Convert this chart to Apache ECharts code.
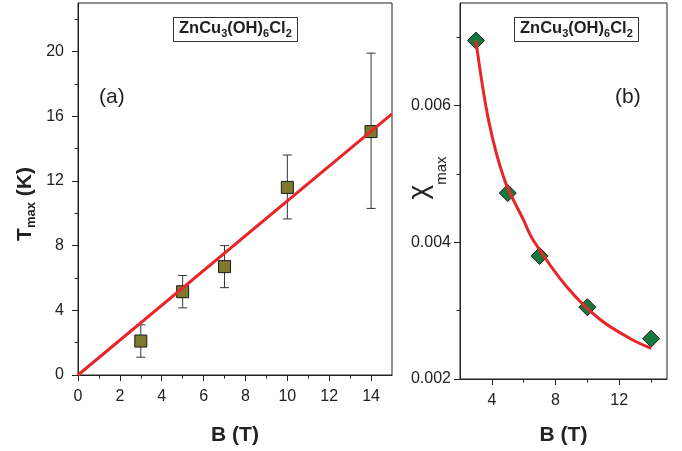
<!DOCTYPE html>
<html>
<head>
<meta charset="utf-8">
<script src="https://cdn.jsdelivr.net/npm/echarts@6/dist/echarts.min.js"></script>
<style>
  html, body { margin: 0; padding: 0; background: #fff; }
  #chart { width: 682px; height: 451px; }
</style>
</head>
<body>
<div id="chart"></div>
<script>
// panel (a): T_max vs B, with error bars and linear fit
const fieldA = [3, 5, 7, 10, 14];
const tMax = [2.1, 5.15, 6.7, 11.6, 15.05];
const tMaxLow = [1.1, 4.15, 5.4, 9.65, 10.3];
const tMaxHigh = [3.1, 6.15, 8.0, 13.6, 19.9];
const fitLineB = [0, 15];
const fitLineT = [0, 16.15];

// panel (b): chi_max vs B, with fitted curve
const fieldB = [3, 5, 7, 10, 14];
const chiMax = [0.00695, 0.00472, 0.0038, 0.00305, 0.00259];
const fitCurveB = [3.0, 3.8, 4.8, 6.0, 6.6, 8.7, 10.8, 12.85, 14.0];
const fitCurveChi = [0.00695, 0.00578, 0.00491, 0.00432, 0.00403, 0.00335, 0.00287, 0.00257, 0.00245];

// tick positions
const aXMajor = [0, 2, 4, 6, 8, 10, 12, 14];
const aXMinor = [1, 3, 5, 7, 9, 11, 13];
const aYMajor = [0, 4, 8, 12, 16, 20];
const aYMinor = [2, 6, 10, 14, 18, 22];
const bXMajor = [4, 8, 12];
const bXMinor = [6, 10, 14];
const bYMajor = [0.002, 0.004, 0.006];
const bYMinor = [0.003, 0.005, 0.007];

const FONT = 'Liberation Sans, Arial, sans-serif';
const INK = '#222';
const RED = '#e8262a';

const chartDom = document.getElementById('chart');
const myChart = echarts.init(chartDom);

function zip(xs, ys) {
    return xs.map((x, i) => [x, ys[i]]);
}

// main axis (line, labels, long ticks)
function mainAxis(grid, min, max, major, labelMargin, extra) {
    return Object.assign({
        type: 'value',
        gridIndex: grid,
        min: min,
        max: max,
        nameMoveOverlap: false,
        axisLine: { show: true, onZero: false, lineStyle: { color: INK, width: 1 } },
        axisTick: { show: true, length: 6, customValues: major, lineStyle: { color: INK } },
        axisLabel: { customValues: major, margin: labelMargin, color: INK, fontSize: 16, fontFamily: FONT },
        splitLine: { show: false }
    }, extra);
}

// overlay axis that only draws the short ticks
function minorAxis(grid, min, max, minor, position) {
    return {
        type: 'value',
        gridIndex: grid,
        position: position,
        min: min,
        max: max,
        axisLine: { show: false, onZero: false },
        axisTick: { show: true, length: 3.5, customValues: minor, lineStyle: { color: INK } },
        axisLabel: { show: false },
        splitLine: { show: false }
    };
}

const subText = {
    big: { fontSize: 21, fontWeight: 'bold', fontFamily: FONT, color: INK, lineHeight: 26, verticalAlign: 'middle' },
    sub: { fontSize: 13, fontWeight: 'bold', fontFamily: FONT, color: INK, lineHeight: 13, verticalAlign: 'bottom' }
};

const formulaRich = {
    m: { fontSize: 16.5, fontWeight: 'bold', fontFamily: FONT, color: INK, lineHeight: 21, verticalAlign: 'middle' },
    s: { fontSize: 11, fontWeight: 'bold', fontFamily: FONT, color: INK, lineHeight: 11, verticalAlign: 'bottom' }
};
const formula = '{m|ZnCu}{s|3}{m|(OH)}{s|6}{m|Cl}{s|2}';

var option = {
    animation: false,
    backgroundColor: '#fff',
    title: [
        {
            text: formula, left: 173, top: 15, padding: [3, 6, 3, 6],
            borderColor: '#333', borderWidth: 1,
            textStyle: { rich: formulaRich }
        },
        {
            text: formula, left: 514, top: 15, padding: [3, 6, 3, 6],
            borderColor: '#333', borderWidth: 1,
            textStyle: { rich: formulaRich }
        },
        { text: '(a)', left: 94, top: 82, textStyle: { fontSize: 21, fontWeight: 'normal', fontFamily: FONT, color: INK } },
        { text: '(b)', left: 610, top: 82, textStyle: { fontSize: 21, fontWeight: 'normal', fontFamily: FONT, color: INK } }
    ],
    grid: [
        { left: 78, right: 290, top: 3, bottom: 74, show: true, borderColor: INK, borderWidth: 1, backgroundColor: 'transparent' },
        { left: 460, right: 15, top: 3, bottom: 70, show: true, borderColor: INK, borderWidth: 1, backgroundColor: 'transparent' }
    ],
    xAxis: [
        mainAxis(0, 0, 15, aXMajor, 14, {
            position: 'bottom',
            name: 'B (T)', nameLocation: 'middle', nameGap: 50,
            nameTextStyle: { fontSize: 21, fontWeight: 'bold', fontFamily: FONT, color: INK }
        }),
        minorAxis(0, 0, 15, aXMinor, 'bottom'),
        mainAxis(1, 2, 15, bXMajor, 14, {
            position: 'bottom',
            name: 'B (T)', nameLocation: 'middle', nameGap: 46,
            nameTextStyle: { fontSize: 21, fontWeight: 'bold', fontFamily: FONT, color: INK }
        }),
        minorAxis(1, 2, 15, bXMinor, 'bottom')
    ],
    yAxis: [
        mainAxis(0, 0, 23, aYMajor, 14, {
            position: 'left',
            name: '{big|T}{sub|max}{big| (K)}', nameLocation: 'middle', nameGap: 40,
            nameTextStyle: { rich: subText, padding: [0, 30, 0, 0] }
        }),
        minorAxis(0, 0, 23, aYMinor, 'left'),
        mainAxis(1, 0.002, 0.0075, bYMajor, 9, {
            position: 'left',
            name: '{c|\u03c7}{s|max}', nameLocation: 'middle', nameGap: 11,
            nameTextStyle: {
                padding: [0, 0, 0, 26],
                rich: {
                    c: { fontSize: 28, fontFamily: FONT, color: INK, lineHeight: 28, verticalAlign: 'top' },
                    s: { fontSize: 15, fontFamily: FONT, color: INK, lineHeight: 44, verticalAlign: 'bottom' }
                }
            }
        }),
        minorAxis(1, 0.002, 0.0075, bYMinor, 'left')
    ],
    series: [
        {
            name: 'error bars',
            type: 'custom',
            xAxisIndex: 0,
            yAxisIndex: 0,
            data: fieldA.map((b, i) => [b, tMaxLow[i], tMaxHigh[i]]),
            renderItem: function (params, api) {
                const lo = api.coord([api.value(0), api.value(1)]);
                const hi = api.coord([api.value(0), api.value(2)]);
                const w = 4.5;
                const style = { stroke: '#333', lineWidth: 1 };
                return {
                    type: 'group',
                    children: [
                        { type: 'line', shape: { x1: lo[0], y1: lo[1], x2: hi[0], y2: hi[1] }, style: style },
                        { type: 'line', shape: { x1: lo[0] - w, y1: lo[1], x2: lo[0] + w, y2: lo[1] }, style: style },
                        { type: 'line', shape: { x1: hi[0] - w, y1: hi[1], x2: hi[0] + w, y2: hi[1] }, style: style }
                    ]
                };
            },
            z: 2
        },
        {
            name: 'T_max',
            type: 'scatter',
            xAxisIndex: 0,
            yAxisIndex: 0,
            data: zip(fieldA, tMax),
            symbol: 'rect',
            symbolSize: 12,
            itemStyle: { color: '#7c7a2c', borderColor: '#1a1a1a', borderWidth: 1, opacity: 1 },
            z: 3
        },
        {
            name: 'linear fit',
            type: 'line',
            xAxisIndex: 0,
            yAxisIndex: 0,
            data: zip(fitLineB, fitLineT),
            showSymbol: false,
            symbol: 'none',
            lineStyle: { color: RED, width: 3 },
            z: 4
        },
        {
            name: 'chi_max',
            type: 'scatter',
            xAxisIndex: 2,
            yAxisIndex: 2,
            data: zip(fieldB, chiMax),
            symbol: 'diamond',
            symbolSize: 17,
            itemStyle: { color: '#157a3b', borderColor: '#1a1a1a', borderWidth: 1, opacity: 1 },
            z: 3
        },
        {
            name: 'fit curve',
            type: 'line',
            xAxisIndex: 2,
            yAxisIndex: 2,
            data: zip(fitCurveB, fitCurveChi),
            smooth: 0.35,
            showSymbol: false,
            symbol: 'none',
            lineStyle: { color: RED, width: 3 },
            z: 4
        }
    ]
};

myChart.setOption(option);
</script>
</body>
</html>
